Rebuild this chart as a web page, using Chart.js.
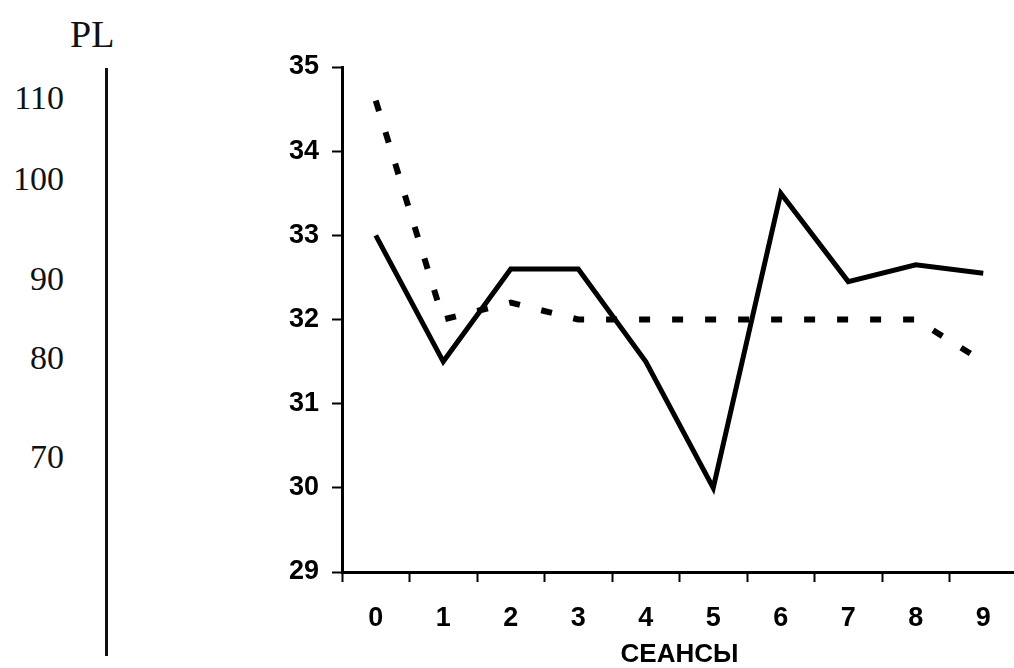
<!DOCTYPE html>
<html>
<head>
<meta charset="utf-8">
<script src="https://cdn.jsdelivr.net/npm/chart.js@4/dist/chart.umd.min.js"></script>
<style>
  html, body { margin: 0; padding: 0; background: #fff; overflow: hidden; }
  body { width: 1014px; height: 668px; position: relative; }
  .pl { position: absolute; font-family: 'Liberation Serif', 'DejaVu Serif', serif; color: #111; }
  .pl-title { left: 70px; top: 14px; font-size: 38px; line-height: 40px; }
  .pl-tick { left: 8px; width: 56px; text-align: right; font-size: 34px; line-height: 36px; }
  .pl-line { position: absolute; left: 105px; top: 68px; width: 3px; height: 588px; background: #111; }
  #wrap { position: absolute; left: 200px; top: 0; width: 830px; height: 668px; }
</style>
</head>
<body>
<div id="plAxis"></div>
<div id="wrap"><canvas id="chart" width="830" height="668"></canvas></div>
<script>
// Linker as (PL) — los getekend, niet-lineair
const plLabels = ['110', '100', '90', '80', '70'];
const plY      = [98, 179, 279, 358, 457];

// Grafiek
const seansen    = ['0', '1', '2', '3', '4', '5', '6', '7', '8', '9'];
const doorlopend = [33.0, 31.5, 32.6, 32.6, 31.5, 30.0, 33.5, 32.45, 32.65, 32.55];
const gestreept  = [34.6, 32.0, 32.2, 32.0, 32.0, 32.0, 32.0, 32.0, 32.0, 31.5];

const as = document.getElementById('plAxis');
as.innerHTML = '<div class="pl pl-title">PL</div><div class="pl-line"></div>' +
  plLabels.map((t, i) => `<div class="pl pl-tick" style="top:${plY[i] - 18}px">${t}</div>`).join('');

const font = { family: "'Liberation Sans', Arial, sans-serif", size: 27, weight: 'bold' };

new Chart(document.getElementById('chart'), {
  type: 'line',
  data: {
    labels: seansen,
    datasets: [
      { data: doorlopend, borderColor: '#000', borderWidth: 5, pointRadius: 0, tension: 0, fill: false },
      { data: gestreept, borderColor: '#000', borderWidth: 6, borderDash: [11, 22], pointRadius: 0, tension: 0, fill: false }
    ]
  },
  options: {
    responsive: false, animation: false,
    layout: { padding: { top: 67, right: 13, left: 0, bottom: 0 } },
    plugins: { legend: { display: false }, tooltip: { enabled: false } },
    scales: {
      x: {
        offset: true,
        grid: { offset: true, drawOnChartArea: false, tickLength: 10, tickWidth: 2, tickColor: '#000' },
        border: { color: '#000', width: 3 },
        ticks: { color: '#000', font, padding: 20, maxRotation: 0 },
        title: { display: true, text: 'СЕАНСЫ', color: '#000', font: { ...font, size: 26, lineHeight: 1 }, padding: 0 },
        afterFit: s => { s.height = 96; }
      },
      y: {
        min: 29, max: 35,
        grid: { drawOnChartArea: false, tickLength: 10, tickWidth: 2, tickColor: '#000' },
        border: { color: '#000', width: 3 },
        ticks: { stepSize: 1, color: '#000', font, padding: 13 },
        afterFit: s => { s.width = 142; }
      }
    }
  }
});
</script>
</body>
</html>
